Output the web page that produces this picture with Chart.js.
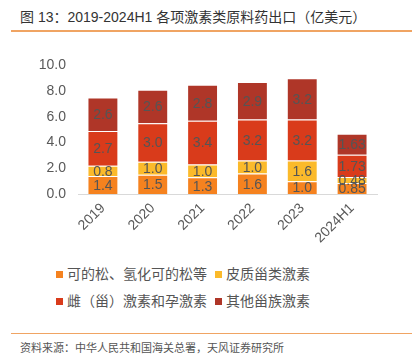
<!DOCTYPE html>
<html><head><meta charset="utf-8">
<script src="https://cdn.jsdelivr.net/npm/chart.js@4"></script>
<style>
html,body{margin:0;padding:0;background:#fff;width:412px;height:360px;overflow:hidden;font-family:"Liberation Sans","Noto Sans CJK SC",sans-serif;}
#title{position:absolute;left:20px;top:6px;font-size:14px;color:#333;white-space:nowrap;}
#tline{position:absolute;left:11px;top:30px;width:401px;height:2px;background:#F0A463;}
#wrap{position:absolute;left:0;top:45px;width:412px;height:210px;}
#legend{position:absolute;left:0;top:262px;width:412px;font-size:14px;color:#555;}
.li{position:absolute;white-space:nowrap;line-height:20px;}
.li i{display:inline-block;width:7px;height:7px;margin-right:4px;vertical-align:1px;}
#bline{position:absolute;left:11px;top:333px;width:401px;height:1px;background:#F0A463;}
#src{position:absolute;left:20px;top:339px;font-size:11px;color:#555;white-space:nowrap;}
</style></head>
<body>
<div id="title">图 13：2019-2024H1 各项激素类原料药出口（亿美元）</div>
<div id="tline"></div>
<div id="wrap"><canvas id="c" width="412" height="210"></canvas></div>
<div id="legend"></div>
<div id="bline"></div>
<div id="src">资料来源：中华人民共和国海关总署，天风证券研究所</div>
<script>
const categories = ["2019","2020","2021","2022","2023","2024H1"];
const seriesNames = ["可的松、氢化可的松等","皮质甾类激素","雌（甾）激素和孕激素","其他甾族激素"];
const cortisone = [1.4,1.5,1.3,1.6,1.0,0.85];
const corticoid = [0.8,1.0,1.0,1.0,1.6,0.48];
const estrogen = [2.7,3.0,3.4,3.2,3.2,1.73];
const otherSteroid = [2.6,2.6,2.8,2.9,3.2,1.63];
const yTicks = [0,2,4,6,8,10];
const colors = ["#F5821F","#FBBA2B","#D93B1B","#AF3628"];

const seriesData = [cortisone, corticoid, estrogen, otherSteroid];

const legendPos = [[56,264],[215,264],[56,291],[215,291]];
const lg = document.getElementById('legend');
seriesNames.forEach((n,i)=>{
  const d=document.createElement('div');d.className='li';
  d.style.left=legendPos[i][0]+'px';d.style.top=(legendPos[i][1]-262)+'px';
  d.innerHTML='<i style="background:'+colors[i]+'"></i>'+n;
  lg.appendChild(d);
});

const labelPlugin = {
  id:'barLabels',
  afterDatasetsDraw(chart){
    const ctx=chart.ctx;
    ctx.save();
    ctx.font='14px "Liberation Sans", sans-serif';
    ctx.fillStyle='#555';
    ctx.textAlign='center';ctx.textBaseline='middle';
    chart.data.datasets.forEach((ds,di)=>{
      chart.getDatasetMeta(di).data.forEach((el,i)=>{
        const v=ds.data[i];
        const txt=v.toFixed(i===5?2:1);
        const y=(el.y+el.base)/2;
        ctx.fillText(txt,el.x,y+1);
      });
    });
    ctx.restore();
  }
};

new Chart(document.getElementById('c'),{
  type:'bar',
  data:{labels:categories,datasets:seriesData.map((d,i)=>({
    label:seriesNames[i],data:d,backgroundColor:colors[i],
    borderColor:'rgba(255,255,255,0.45)',borderWidth:1,
    barPercentage:0.62,categoryPercentage:1
  }))},
  options:{
    responsive:false,animation:false,
    layout:{padding:{left:0,right:35,top:8,bottom:0}},
    plugins:{legend:{display:false},tooltip:{enabled:false}},
    scales:{
      x:{stacked:true,
        grid:{display:false,drawTicks:false},
        border:{color:'#D9D9D9',width:1},
        ticks:{color:'#595959',font:{family:'"Liberation Sans", sans-serif',size:14},maxRotation:45,minRotation:45,padding:6},
        afterFit(s){s.height=61;}
      },
      y:{stacked:true,min:0,max:10,
        grid:{display:false,drawTicks:false},
        border:{display:false},
        afterBuildTicks(s){s.ticks=yTicks.map(v=>({value:v}));},
        ticks:{color:'#595959',font:{family:'"Liberation Sans", sans-serif',size:14},padding:12,callback:v=>v.toFixed(1)},
        afterFit(s){s.width=78;}
      }
    }
  },
  plugins:[labelPlugin]
});
</script>
</body></html>
